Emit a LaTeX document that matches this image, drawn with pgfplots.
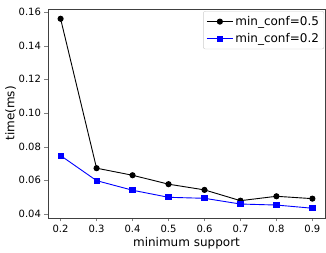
\documentclass[border=0pt]{standalone}
\usepackage{pgfplots}
\pgfplotsset{compat=1.18}
\usepackage{fontspec}
\setmainfont{DejaVu Sans}
\pgfplotsset{longleg/.style={legend image code/.code={\draw[mark repeat=2,mark phase=2,##1] plot coordinates {(0cm,0cm) (0.46cm,0cm) (0.92cm,0cm)};}}}
\begin{document}
\begin{tikzpicture}
\path[use as bounding box] (-48pt,-35pt) rectangle (278pt,218pt);
\begin{axis}[
  at={(0,0)}, anchor=south west,
  scale only axis, width=277pt, height=209pt,
  xmin=0.165, xmax=0.935, ymin=0.0376, ymax=0.1618,
  xtick={0.2,0.3,0.4,0.5,0.6,0.7,0.8,0.9},
  ytick={0.04,0.06,0.08,0.10,0.12,0.14,0.16},
  xticklabel style={/pgf/number format/.cd,fixed,precision=1,zerofill},
  yticklabel style={/pgf/number format/.cd,fixed,precision=2,zerofill},
  /pgf/number format/assume math mode=true,
  ticklabel style={font=\fontsize{10}{11}\selectfont},
  tick align=outside, tick pos=left,
  major tick length=3.5pt,
  axis line style={black!75},
  xlabel={minimum support}, ylabel={time(ms)},
  label style={font=\fontsize{12}{13}\selectfont},
  xlabel style={yshift=2pt},
  ylabel style={yshift=-4pt},
  legend style={at={(0.997,0.99)}, anchor=north east, draw=black!20, rounded corners=2pt,
    font=\fontsize{12}{13}\selectfont, row sep=2.5pt, inner xsep=3pt, inner ysep=3pt,
    /tikz/every even column/.append style={column sep=6pt}},
  legend cell align=left,
]
\addplot[black, line width=0.9pt, mark=*, mark size=2.6pt, longleg] coordinates {
(0.2,0.1560) (0.3,0.0672) (0.4,0.0630) (0.5,0.0577) (0.6,0.0543) (0.7,0.0479) (0.8,0.0505) (0.9,0.0491)};
\addlegendentry{min\_conf=0.5}
\addplot[blue, line width=0.9pt, mark=square*, mark size=2.6pt, longleg] coordinates {
(0.2,0.0747) (0.3,0.0598) (0.4,0.0541) (0.5,0.0499) (0.6,0.0493) (0.7,0.0459) (0.8,0.0453) (0.9,0.0434)};
\addlegendentry{min\_conf=0.2}
\end{axis}
\end{tikzpicture}
\end{document}
